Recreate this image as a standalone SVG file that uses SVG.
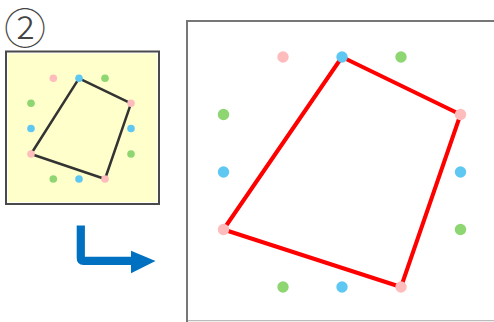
<svg xmlns="http://www.w3.org/2000/svg" width="494" height="322" viewBox="0 0 494 322">
<style>
.pk{fill:#ffbcbc}.bl{fill:#5ec8f2}.gr{fill:#8ed672}
</style>
<rect width="494" height="322" fill="#fff"/>
<text x="25" y="44" font-family="'DejaVu Sans', 'Noto Sans CJK JP', sans-serif" font-size="42" font-weight="200" fill="#444" text-anchor="middle">②</text>
<g id="small-panel">
<rect x="6" y="51.5" width="153" height="152.5" fill="#fff" stroke="#4a4a4a" stroke-width="2"/>
<rect x="8" y="53.5" width="149" height="148.5" fill="#ffffcc"/>
<polygon points="79,78.3 131,103.3 105,179 31,154" fill="none" stroke="#333" stroke-width="2.5" stroke-linejoin="round"/>
<g>
<circle class="pk" cx="53.3" cy="78.3" r="3.8"/><circle class="bl" cx="79" cy="78.3" r="3.8"/><circle class="gr" cx="105" cy="78.3" r="3.8"/>
<circle class="gr" cx="31" cy="103.3" r="3.8"/><circle class="pk" cx="131" cy="103.3" r="3.8"/>
<circle class="bl" cx="31" cy="128.5" r="3.8"/><circle class="bl" cx="131" cy="128.5" r="3.8"/>
<circle class="pk" cx="31" cy="154" r="3.8"/><circle class="gr" cx="131" cy="154" r="3.8"/>
<circle class="gr" cx="53.3" cy="179" r="3.8"/><circle class="bl" cx="79" cy="179" r="3.8"/><circle class="pk" cx="105" cy="179" r="3.8"/>
</g>
</g>
<g id="arrow">
<path d="M80.8,225.5 V258 Q80.8,260.8 83.6,260.8 H133" fill="none" stroke="#0070c0" stroke-width="8.2"/>
<polygon points="131,250.7 155.5,261 131,273.3" fill="#0070c0"/>
</g>
<g id="large-panel">
<rect x="187" y="21" width="320" height="300.5" fill="#fff" stroke="#777" stroke-width="2"/>
<line x1="188" y1="321.5" x2="494" y2="321.5" stroke="#eee" stroke-width="1"/>
<polygon points="342,57 460.5,114.5 401,287 223.5,229.5" fill="none" stroke="#ff0000" stroke-width="4" stroke-linejoin="round"/>
<g>
<circle class="pk" cx="283" cy="57" r="5.7"/><circle class="bl" cx="342" cy="57" r="5.7"/><circle class="gr" cx="401" cy="57" r="5.7"/>
<circle class="gr" cx="223.5" cy="114.5" r="5.7"/><circle class="pk" cx="460.5" cy="114.5" r="5.7"/>
<circle class="bl" cx="223.5" cy="172" r="5.7"/><circle class="bl" cx="460.5" cy="172" r="5.7"/>
<circle class="pk" cx="223.5" cy="229.5" r="5.7"/><circle class="gr" cx="460.5" cy="229.5" r="5.7"/>
<circle class="gr" cx="283" cy="287" r="5.7"/><circle class="bl" cx="342" cy="287" r="5.7"/><circle class="pk" cx="401" cy="287" r="5.7"/>
</g>
</g>
</svg>
